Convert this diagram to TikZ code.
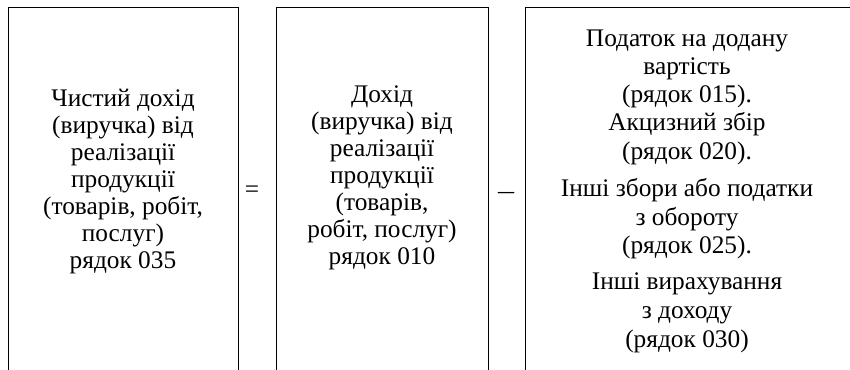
\documentclass[tikz,border=0pt]{standalone}
\usepackage{fontspec}
\setmainfont{Liberation Serif}
\begin{document}
\begin{tikzpicture}[x=0.75pt,y=-0.75pt,
  box/.style={draw=black,line width=1.1pt,rectangle,inner sep=0pt,anchor=north west},
  txt/.style={font=\fontsize{19pt}{20.25pt}\selectfont,align=center,inner sep=0pt},
  ln/.style={font=\fontsize{19pt}{20pt}\selectfont,inner sep=0pt,anchor=base},
  op/.style={font=\fontsize{19pt}{20pt}\selectfont,inner sep=0pt}]
\useasboundingbox (0,0) rectangle (850,369);
\clip (0,0) rectangle (850,369);
\node[box,minimum width=172.5pt,minimum height=300pt] (b1) at (8,7) {};
\node[box,minimum width=159pt,minimum height=300pt] (b2) at (276,7) {};
\node[box,minimum width=255pt,minimum height=300pt] (b3) at (525,7) {};
\node[txt] (t1) at (123,182) {Чистий дохід\\(виручка) від\\реалізації\\продукції\\(товарів, робіт,\\послуг)\\рядок 035};
\node[txt] (t2) at (382,177.5) {Дохід\\(виручка) від\\реалізації\\продукції\\(товарів,\\робіт, послуг)\\рядок 010};
\node[op] (eq) at (252,192) {=};
\node[op] (mi) at (506,197) {\scalebox{1.4}[1]{−}};
\node[ln] (l1) at (687,46) {Податок на додану};
\node[ln] (l2) at (687,74) {вартість};
\node[ln] (l3) at (687,102) {(рядок 015).};
\node[ln] (l4) at (687,130) {Акцизний збір};
\node[ln] (l5) at (687,159) {(рядок 020).};
\node[ln] (l6) at (687,196) {Інші збори або податки};
\node[ln] (l7) at (687,225) {з обороту};
\node[ln] (l8) at (687,253) {(рядок 025).};
\node[ln] (l9) at (687,289) {Інші вирахування};
\node[ln] (l10) at (687,318) {з доходу};
\node[ln] (l11) at (687,347) {(рядок 030)};
\end{tikzpicture}
\end{document}
